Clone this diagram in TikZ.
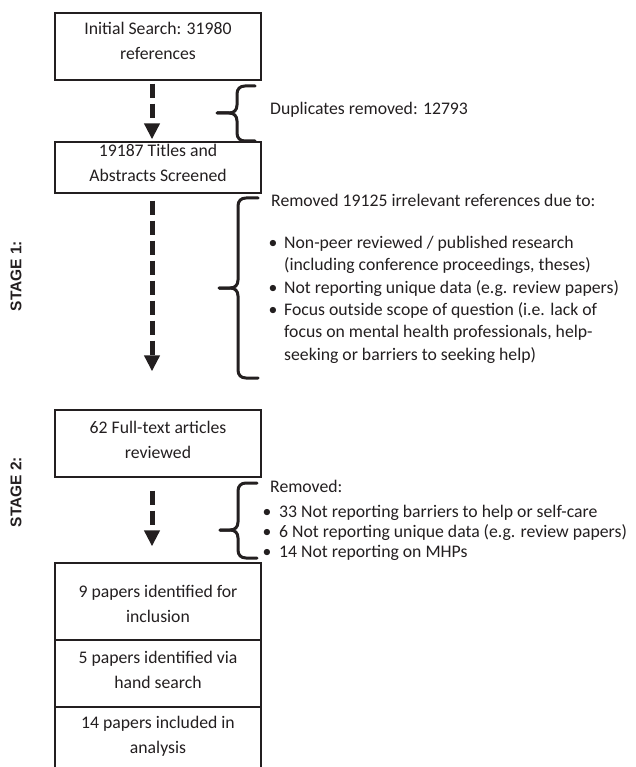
\documentclass[tikz,border=0pt]{standalone}
\usepackage{fontspec}
\setmainfont{Carlito}
\newfontfamily\stagefont{Liberation Sans}
\usetikzlibrary{arrows.meta}
\definecolor{ink}{HTML}{231F20}
\newcommand{\twolines}[1]{\begin{tabular}[t]{@{}c@{}}#1\end{tabular}}
\newcommand{\leftlines}[1]{\begin{tabular}[t]{@{}l@{}}#1\end{tabular}}
\newcommand{\sidebrace}[6]{%
  \draw[bracestyle] (#1,#4) -- (#2+8,#4) .. controls (#2+3,#4) and (#2,#4+3) .. (#2,#4+8)
    -- (#2,#5-8) .. controls (#2,#5-3) and (#2-3,#5) .. (#2-8,#5) -- (#3,#5);
  \draw[bracestyle] (#3,#5) -- (#2-8,#5) .. controls (#2-3,#5) and (#2,#5+3) .. (#2,#5+8)
    -- (#2,#6-8) .. controls (#2,#6-3) and (#2+3,#6) .. (#2+8,#6) -- (#1,#6);
}
\begin{document}
\begin{tikzpicture}[x=1pt,y=-1pt,
  box/.style={draw=ink, line width=1.3pt, minimum width=206pt, inner sep=0pt},
  txt/.style={text=ink, font=\fontsize{17.7}{25}\selectfont, inner sep=0pt, anchor=base},
  ltxt/.style={text=ink, font=\fontsize{17.7}{22.8}\selectfont, inner sep=0pt, anchor=base west},
  bul/.style={text=ink, font=\fontsize{17.7}{22.8}\selectfont, inner sep=0pt, anchor=base},
  flow/.style={draw=ink, line width=5pt, dash pattern=on 14pt off 6pt, -{Triangle[width=15pt,length=16pt]}},
  bracestyle/.style={draw=ink, line width=3pt, line join=round, line cap=round},
  stage/.style={text=ink, font=\stagefont\bfseries\fontsize{15.5}{18}\selectfont, rotate=90, inner sep=0pt}
]
\useasboundingbox[fill=white] (0,0) rectangle (636,767);

% boxes
\node[box, minimum height=67pt] (b1) at (158,46.5) {};
\node[box, minimum height=51pt] (b2) at (158,167.5) {};
\node[box, minimum height=67pt] (b3) at (158,443.5) {};
\node[box, minimum height=77pt] (b4) at (158,601.5) {};
\node[box, minimum height=67pt] (b5) at (158,673.5) {};
\node[box, minimum height=67pt] (b6) at (158,740.5) {};

% box texts
\node[txt] (t1) at (158,35) {\twolines{Initial Search: 31980\\references}};
\node[txt] (t2) at (158,157) {\twolines{19187 Titles and\\Abstracts Screened}};
\node[txt] (t3) at (158,433) {\twolines{62 Full-text articles\\reviewed}};
\node[txt] (t4) at (158,597) {\twolines{9 papers identified for\\inclusion}};
\node[txt] (t5) at (158,663) {\twolines{5 papers identified via\\hand search}};
\node[txt] (t6) at (158,728) {\twolines{14 papers included in\\analysis}};

% arrows
\draw[flow, shorten <=3pt, shorten >=2pt] ([xshift=-6pt]b1.south) -- ([xshift=-6pt]b2.north);
\draw[flow, shorten <=7pt, shorten >=38pt] ([xshift=-6pt]b2.south) -- ([xshift=-6pt]b3.north);
\draw[flow, shorten <=13pt, shorten >=16pt] ([xshift=-6pt]b3.south) -- ([xshift=-6pt]b4.north);

% braces
\sidebrace{255}{237}{217}{86}{113}{141}
\sidebrace{258}{238}{219}{198}{288}{378}
\sidebrace{257}{238}{220}{483}{530}{558}

% side texts
\node[ltxt] (dup) at (270,114.5) {Duplicates removed: 12793};
\node[ltxt] (rm1) at (271,207) {Removed 19125 irrelevant references due to:};
\node[bul] (bu1) at (273,248) {•};
\node[ltxt] (it1) at (284,248) {\leftlines{Non-peer reviewed / published research\\(including conference proceedings, theses)}};
\node[bul] (bu2) at (273,293) {•};
\node[ltxt] (it2) at (284,293) {Not reporting unique data (e.g. review papers)};
\node[bul] (bu3) at (273,315) {•};
\node[ltxt] (it3) at (284,315) {\leftlines{Focus outside scope of question (i.e. lack of\\focus on mental health professionals, help-\\seeking or barriers to seeking help)}};

\node[ltxt] (rm2) at (270,492) {Removed:};
\node[bul] (bu4) at (267,517) {•};
\node[ltxt] (it4) at (279,517) {33 Not reporting barriers to help or self-care};
\node[bul] (bu5) at (267,537) {•};
\node[ltxt] (it5) at (279,537) {6 Not reporting unique data (e.g. review papers)};
\node[bul] (bu6) at (267,557) {•};
\node[ltxt] (it6) at (279,557) {14 Not reporting on MHPs};

% stage labels
\node[stage] (s1) at (16,276) {STAGE 1:};
\node[stage] (s2) at (16,492) {STAGE 2:};
\end{tikzpicture}
\end{document}
